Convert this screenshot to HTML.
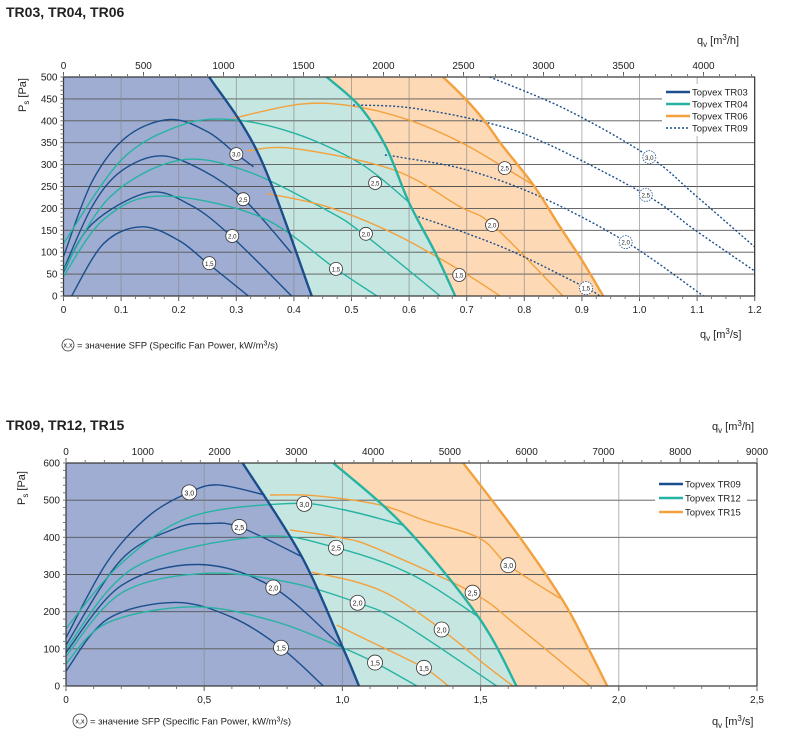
<!DOCTYPE html>
<html><head><meta charset="utf-8">
<style>
body{margin:0;background:#fff;width:786px;height:745px;overflow:hidden;font-family:"Liberation Sans","DejaVu Sans",sans-serif;}
svg{position:absolute;left:0;top:0}
</style></head>
<body>
<svg id="s" width="786" height="745" viewBox="0 0 786 745" xmlns="http://www.w3.org/2000/svg" font-family="Liberation Sans, DejaVu Sans, sans-serif"></svg>
<script>
// ---------- Chart 1 data (q m3/s, Ps Pa) ----------
const c1XTicks = [0,0.1,0.2,0.3,0.4,0.5,0.6,0.7,0.8,0.9,1,1.1,1.2];
const c1XTickLabels = ["0","0.1","0.2","0.3","0.4","0.5","0.6","0.7","0.8","0.9","1.0","1.1","1.2"];
const c1YTicks = [0,50,100,150,200,250,300,350,400,450,500];
const c1TopTicks = [0,500,1000,1500,2000,2500,3000,3500,4000];
const tr03Bound = [[0.253,500],[0.34,320],[0.431,0]];
const tr04Bound = [[0.457,500],[0.515,432],[0.56,340],[0.6,213],[0.645,100],[0.68,0]];
const tr06Bound = [[0.659,500],[0.697,451],[0.732,398],[0.761,345],[0.816,253],[0.862,158],[0.9,82],[0.937,0]];
const tr03c30 = [[0,90],[0.05,262],[0.11,364],[0.185,403],[0.25,375],[0.30,324],[0.33,295]];
const tr03c25 = [[0,60],[0.05,205],[0.1,285],[0.168,320],[0.24,288],[0.313,221],[0.396,98]];
const tr03c20 = [[0,55],[0.05,165],[0.147,236],[0.22,208],[0.29,138],[0.396,0]];
const tr03c15 = [[0.014,0],[0.07,120],[0.136,158],[0.2,127],[0.25,75],[0.321,0]];
const tr04c30 = [[0,120],[0.1,310],[0.2,388],[0.289,403],[0.4,372],[0.515,303],[0.599,215]];
const tr04c25 = [[0,59],[0.08,225],[0.197,309],[0.312,288],[0.457,196],[0.523,139],[0.654,0]];
const tr04c20 = [[0,45],[0.07,175],[0.167,228],[0.341,181],[0.474,61],[0.544,0]];
const tr06c30 = [[0.295,406],[0.411,438],[0.5,434],[0.599,402],[0.688,352],[0.766,293],[0.816,253]];
const tr06c25 = [[0.318,331],[0.399,337],[0.573,288],[0.688,204],[0.745,162],[0.867,0]];
const tr06c20 = [[0.353,234],[0.457,204],[0.573,143],[0.688,59],[0.758,0]];
const tr09c30 = [[0.74,500],[0.874,425],[1.017,318],[1.096,231],[1.2,112]];
const tr09c25 = [[0.503,436],[0.6,430],[0.729,398],[0.832,352],[1.011,231],[1.096,151],[1.2,57]];
const tr09c20 = [[0.558,322],[0.584,317],[0.7,288],[0.827,227],[0.976,124],[1.111,0]];
const tr09c15 = [[0.616,181],[0.7,143],[0.787,97],[0.908,18],[0.931,0]];
const c1Labels = [["3,0",0.3,324,0],["2,5",0.312,221,0],["2,0",0.293,137,0],["1,5",0.253,75,0],
 ["2,5",0.541,258,0],["2,0",0.525,142,0],["1,5",0.473,62,0],
 ["2,5",0.766,292,0],["2,0",0.744,162,0],["1,5",0.687,48,0],
 ["3,0",1.017,317,1],["2,5",1.011,231,1],["2,0",0.976,123,1],["1,5",0.907,18,1]];
// ---------- Chart 2 data ----------
const c2XTicks = [0,0.5,1,1.5,2,2.5];
const c2XTickLabels = ["0","0,5","1,0","1,5","2,0","2,5"];
const c2YTicks = [0,100,200,300,400,500,600];
const c2TopTicks = [0,1000,2000,3000,4000,5000,6000,7000,8000,9000];
const tr09Bound = [[0.639,600],[0.853,348],[1.003,101],[1.06,0]];
const tr12Bound = [[0.967,600],[1.22,433],[1.492,186],[1.63,0]];
const tr15Bound = [[1.437,600],[1.636,406],[1.8,227],[1.89,101],[1.958,0]];
const tr09b30 = [[0,130],[0.15,335],[0.3,458],[0.446,521],[0.551,541],[0.72,514]];
const tr09b25 = [[0,110],[0.2,340],[0.4,425],[0.515,437],[0.627,428],[0.853,348]];
const tr09b20 = [[0,90],[0.2,270],[0.479,327],[0.75,265],[1.003,101]];
const tr09b15 = [[0,40],[0.15,180],[0.394,225],[0.6,185],[0.778,103],[0.931,0]];
const tr12b30 = [[0,155],[0.2,330],[0.45,455],[0.81,491],[1.0,475],[1.22,433]];
const tr12b25 = [[0,100],[0.25,320],[0.702,402],[0.977,372],[1.25,300],[1.492,186]];
const tr12b20 = [[0,80],[0.2,250],[0.497,303],[0.8,280],[1.055,224],[1.208,173],[1.558,0]];
const tr12b15 = [[0,60],[0.15,170],[0.461,213],[0.75,175],[0.991,106],[1.118,63],[1.269,0]];
const tr15b30 = [[0.738,514],[0.9,512],[1.136,487],[1.3,445],[1.498,397],[1.6,325],[1.787,236]];
const tr15b25 = [[0.81,420],[1.0,398],[1.124,370],[1.471,251],[1.643,155],[1.896,0]];
const tr15b20 = [[0.889,306],[1.05,280],[1.184,240],[1.359,152],[1.52,55],[1.617,0]];
const tr15b15 = [[0.979,164],[1.1,120],[1.295,49],[1.383,0]];
const c2Labels = [["3,0",0.446,521],["2,5",0.627,428],["2,0",0.75,265],["1,5",0.778,103],
 ["3,0",0.862,490],["2,5",0.977,372],["2,0",1.055,224],["1,5",1.118,63],
 ["3,0",1.6,325],["2,5",1.471,251],["2,0",1.359,152],["1,5",1.295,49]];

const NS="http://www.w3.org/2000/svg";
const svg=document.getElementById('s');
const DB="#1b4e8c", TL="#26b3a3", OR="#f3a13d";
function mk(tag,attrs,parent){const e=document.createElementNS(NS,tag);for(const k in attrs)e.setAttribute(k,attrs[k]);(parent||svg).appendChild(e);return e;}
function txt(s,x,y,size,anchor,weight,parent){const t=mk('text',{x:x,y:y,'font-size':size,'text-anchor':anchor||'start','font-weight':weight||'normal',fill:'#222'},parent);t.textContent=s;return t;}
function pathD(pts,sx,sy){const p=pts.map(a=>[sx(a[0]),sy(a[1])]);let d="M"+p[0][0].toFixed(1)+","+p[0][1].toFixed(1);
 for(let i=0;i<p.length-1;i++){const p0=p[i-1]||p[i],p1=p[i],p2=p[i+1],p3=p[i+2]||p2;
  const c1=[p1[0]+(p2[0]-p0[0])/6,p1[1]+(p2[1]-p0[1])/6],c2=[p2[0]-(p3[0]-p1[0])/6,p2[1]-(p3[1]-p1[1])/6];
  d+=" C"+c1[0].toFixed(1)+","+c1[1].toFixed(1)+" "+c2[0].toFixed(1)+","+c2[1].toFixed(1)+" "+p2[0].toFixed(1)+","+p2[1].toFixed(1);}
 return d;}
function revD(pts,sx,sy){return pathD(pts.slice().reverse(),sx,sy).replace(/^M/,"L");}

function chart(o){
 const g=mk('g',{});
 
 
 const sx=q=>o.x0+q*(o.x1-o.x0)/o.xmax, sy=p=>o.y0-p*(o.y0-o.y1)/o.ymax;
 const clip=mk('clipPath',{id:o.name+'-clip'},g);mk('rect',{x:o.x0,y:o.y1,width:o.x1-o.x0,height:o.y0-o.y1},clip);
 const plot=mk('g',{'clip-path':'url(#'+o.name+'-clip)'},g);
 const [b1,b2,b3]=o.bounds;
 const f1=mk('path',{d:"M"+sx(0)+","+sy(0)+" L"+sx(0)+","+sy(o.ymax)+" "+pathD(b1,sx,sy).replace(/^M/,"L")+" Z",fill:"#9eadd1"},plot);
 
 
 const f2=mk('path',{d:pathD(b1,sx,sy)+" "+revD(b2,sx,sy)+" Z",fill:"#c6e6e1"},plot);
 
 
 const f3=mk('path',{d:pathD(b2,sx,sy)+" "+revD(b3,sx,sy)+" Z",fill:"#fdd9b5"},plot);
 
 
 o.yTicks.forEach(v=>{const l=mk('line',{x1:o.x0,x2:o.x1,y1:sy(v),y2:sy(v),stroke:"#555","stroke-width":0.9},plot);
  
  });
 o.xTicks.forEach(v=>{const l=mk('line',{x1:sx(v),x2:sx(v),y1:o.y1,y2:o.y0,stroke:"#888","stroke-width":0.9,opacity:0.7},plot);
  
  });
 o.curves.forEach(c=>{const p=mk('path',{d:pathD(c[0],sx,sy),fill:"none",stroke:c[1],"stroke-width":1.4,"stroke-dasharray":c[2]?"2,2":"none"},plot);
  
  });
 o.bounds.forEach((b,i)=>{const p=mk('path',{d:pathD(b,sx,sy),fill:"none",stroke:o.bcol[i],"stroke-width":2.4},plot);
  
  });
 o.labels.forEach(L=>{const cg=mk('g',{},plot);
  
  
  mk('circle',{cx:sx(L[1]),cy:sy(L[2]),r:o.r,fill:"#fff",stroke:L[3]?"#1b4e8c":"#333","stroke-width":0.8,"stroke-dasharray":L[3]?"1.5,1.2":"none"},cg);
  txt(L[0],sx(L[1]),sy(L[2])+o.r*0.4,o.r*0.95,'middle','normal',cg);});
 const fr=mk('rect',{x:o.x0,y:o.y1,width:o.x1-o.x0,height:o.y0-o.y1,fill:"none",stroke:"#333","stroke-width":1.2},g);
 
 
 o.xTicks.forEach((v,i)=>{mk('line',{x1:sx(v),x2:sx(v),y1:o.y0,y2:o.y0+5,stroke:"#555"},g);
  const t=txt(o.xLabels[i],sx(v),o.y0+17,10,'middle','normal',g);
  
  });
 for(let v=0;v<=o.xmax+1e-9;v+=o.xminor){mk('line',{x1:sx(v),x2:sx(v),y1:o.y0,y2:o.y0+3,stroke:"#777"},g);}
 o.yTicks.forEach(v=>{const t=txt(String(v),o.x0-6,sy(v)+3.5,10,'end','normal',g);
  
  });
 for(let v=0;v<=o.ymax;v+=o.yminor){mk('line',{x1:o.x0-3,x2:o.x0,y1:sy(v),y2:sy(v),stroke:"#777"},g);}
 const tsx=h=>sx(h/3600);
 mk('line',{x1:o.x0,x2:o.x1,y1:o.y1,y2:o.y1,stroke:"#333"},g);
 o.topTicks.forEach(h=>{mk('line',{x1:tsx(h),x2:tsx(h),y1:o.y1,y2:o.y1-5,stroke:"#555"},g);
  const t=txt(String(h),tsx(h),o.y1-8,10,'middle','normal',g);
  
  });
 for(let h=0;h<=o.xmax*3600;h+=o.topMinor){mk('line',{x1:tsx(h),x2:tsx(h),y1:o.y1,y2:o.y1-3,stroke:"#777"},g);}
 const tt=txt(o.title,o.titlePos[0],o.titlePos[1],14,'start','bold',g);
 
 
 const yt=mk('text',{x:0,y:0,'font-size':11,fill:'#222',transform:"translate("+o.yTitlePos[0]+","+o.yTitlePos[1]+") rotate(-90)"},g);
 yt.innerHTML='P<tspan font-size="8" dy="3">s</tspan><tspan dy="-3"> [Pa]</tspan>';
 
 
 const xt=mk('text',{x:o.xTitlePos[0],y:o.xTitlePos[1],'font-size':11,fill:'#222'},g);
 xt.innerHTML='q<tspan font-size="8" dy="3">v</tspan><tspan dy="-3"> [m</tspan><tspan font-size="8" dy="-4">3</tspan><tspan dy="4">/s]</tspan>';
 
 
 const ht=mk('text',{x:o.topTitlePos[0],y:o.topTitlePos[1],'font-size':11,fill:'#222'},g);
 ht.innerHTML='q<tspan font-size="8" dy="3">v</tspan><tspan dy="-3"> [m</tspan><tspan font-size="8" dy="-4">3</tspan><tspan dy="4">/h]</tspan>';
 
 
 const lg=mk('g',{},g);
 
 
 mk('rect',{x:o.legend[0]-4,y:o.legend[1]-8,width:92,height:o.series.length*o.legend[2]+4,fill:"#fff"},lg);
 o.series.forEach((s,i)=>{const y=o.legend[1]+i*o.legend[2];
  const e=mk('g',{},lg);
  
  
  mk('line',{x1:o.legend[0],x2:o.legend[0]+24,y1:y,y2:y,stroke:o.lcol[i],"stroke-width":i===3?1.6:2.6,"stroke-dasharray":i===3?"2,2":"none"},e);
  txt('Topvex '+s,o.legend[0]+26,y+3.5,9.5,'start','normal',e);});
 const fn=mk('g',{},g);
 
 
 mk('circle',{cx:o.foot[0],cy:o.foot[1],r:o.foot[2],fill:"#fff",stroke:"#333","stroke-width":0.8},fn);
 txt('x,x',o.foot[0],o.foot[1]+2.5,7,'middle','normal',fn);
 const ft=mk('text',{x:o.foot[0]+o.foot[2]+3,y:o.foot[1]+3.5,'font-size':9.5,fill:'#222'},fn);
 ft.innerHTML='= значение SFP (Specific Fan Power, kW/m<tspan font-size="7" dy="-3">3</tspan><tspan dy="3">/s)</tspan>';
}

chart({name:'chart-tr03-tr06',x0:63.5,x1:754.7,y0:296,y1:77,xmax:1.2,ymax:500,
 xTicks:c1XTicks,xLabels:c1XTickLabels,yTicks:c1YTicks,xminor:0.025,yminor:10,topTicks:c1TopTicks,topMinor:100,
 bounds:[tr03Bound,tr04Bound,tr06Bound],bcol:[DB,TL,OR],series:["TR03","TR04","TR06","TR09"],lcol:[DB,TL,OR,DB],
 curves:[[tr03c30,DB],[tr03c25,DB],[tr03c20,DB],[tr03c15,DB],[tr04c30,TL],[tr04c25,TL],[tr04c20,TL],
  [tr06c30,OR],[tr06c25,OR],[tr06c20,OR],[tr09c30,DB,1],[tr09c25,DB,1],[tr09c20,DB,1],[tr09c15,DB,1]],
 labels:c1Labels,r:6.5,title:"TR03, TR04, TR06",titlePos:[6,17],yTitlePos:[26,112],xTitlePos:[700,338],topTitlePos:[697,44],
 legend:[666,92,12],foot:[68,345,6]});
chart({name:'chart-tr09-tr15',x0:66,x1:757,y0:686,y1:463,xmax:2.5,ymax:600,
 xTicks:c2XTicks,xLabels:c2XTickLabels,yTicks:c2YTicks,xminor:0.1,yminor:20,topTicks:c2TopTicks,topMinor:250,
 bounds:[tr09Bound,tr12Bound,tr15Bound],bcol:[DB,TL,OR],series:["TR09","TR12","TR15"],lcol:[DB,TL,OR],
 curves:[[tr09b30,DB],[tr09b25,DB],[tr09b20,DB],[tr09b15,DB],[tr12b30,TL],[tr12b25,TL],[tr12b20,TL],[tr12b15,TL],
  [tr15b30,OR],[tr15b25,OR],[tr15b20,OR],[tr15b15,OR]],
 labels:c2Labels.map(l=>[l[0],l[1],l[2],0]),r:7.5,title:"TR09, TR12, TR15",titlePos:[6,430],yTitlePos:[25,505],xTitlePos:[712,725],topTitlePos:[712,430],
 legend:[659,484,14],foot:[80,721,7]});
</script>
</body></html>
